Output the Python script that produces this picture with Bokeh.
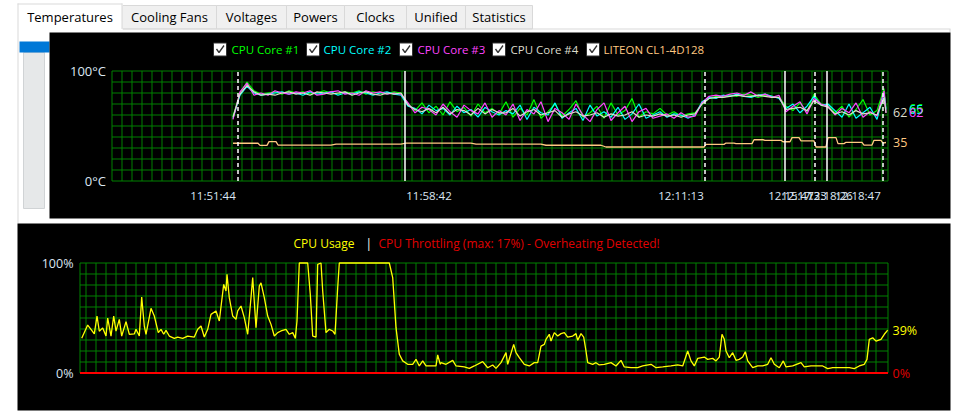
from bokeh.plotting import figure
from bokeh.models import Range1d
from bokeh.core.properties import value
from bokeh.embed import file_html
from bokeh.resources import INLINE

FONT = "Open Sans"
GRID = "#008000"
LBL = "#dce6f2"

# ---------------- data ----------------
tab_labels = ["Temperatures", "Cooling Fans", "Voltages", "Powers", "Clocks", "Unified", "Statistics"]
tab_edges = [17, 122, 216, 286, 344, 406, 465, 532]

series_names = ["CPU Core #1", "CPU Core #2", "CPU Core #3", "CPU Core #4", "LITEON CL1-4D128"]
series_colors = ["#00ff00", "#00ffff", "#ff44ff", "#dcdccc", "#ffc880"]

# sample index along the temperature time axis
temp_t = list(range(121, 773, 7)) + [774]
core1 = [59, 80, 90, 82, 79,
         80, 81, 79, 82, 80, 81, 79, 80, 82, 80, 79, 81, 80, 82, 79, 81, 80, 79, 81, 80,
         70, 64, 71, 62, 68, 60, 72, 63, 67, 59, 70, 62, 66, 61,
         72, 58, 66, 60, 74, 57, 63, 70, 59, 65, 73, 58, 62, 68, 57, 71, 60, 64, 75, 58, 63, 61, 66,
         60, 63, 59, 61, 62, 70,
         75, 77, 76, 78, 77, 79, 78, 76, 78, 77, 76,
         68, 64, 71, 63, 79, 70, 69,
         62, 68, 58, 65, 74, 60, 64, 84, 66]
core2 = [57, 78, 86, 80, 78,
         79, 80, 81, 79, 80, 78, 81, 79, 80, 81, 78, 80, 79, 81, 80, 78, 80, 81, 79, 78,
         68, 66, 61, 69, 64, 66, 60, 68, 62, 65, 58, 67, 63, 60,
         64, 61, 69, 56, 67, 62, 60, 71, 57, 62, 66, 55, 69, 59, 63, 58, 67, 56, 61, 70, 57, 60, 63,
         58, 61, 60, 57, 60, 72,
         76, 75, 78, 77, 79, 77, 76, 78, 79, 77, 75,
         66, 70, 62, 68, 77, 69, 70,
         64, 58, 70, 57, 62, 67, 56, 80, 65]
core3 = [56, 81, 89, 78, 80,
         78, 82, 80, 79, 81, 80, 82, 78, 79, 81, 82, 79, 80, 78, 82, 80, 81, 79, 80, 79,
         71, 62, 67, 65, 60, 70, 63, 58, 69, 64, 61, 71, 58, 64,
         60, 70, 55, 65, 61, 72, 54, 66, 62, 56, 70, 60, 54, 65, 71, 55, 62, 68, 54, 63, 66, 57, 59,
         61, 57, 62, 58, 59, 71,
         77, 78, 77, 79, 80, 78, 81, 77, 79, 76, 78,
         63, 68, 72, 61, 75, 70, 68,
         60, 66, 62, 71, 58, 63, 59, 82, 62]
core4 = [58, 79, 87, 81, 78,
         79, 78, 80, 81, 79, 80, 78, 81, 80, 79, 80, 81, 78, 80, 81, 79, 78, 80, 79, 80,
         69, 65, 63, 66, 62, 67, 61, 65, 64, 60, 66, 61, 65, 62,
         62, 66, 59, 63, 65, 60, 62, 64, 58, 61, 63, 59, 60, 62, 58, 61, 59, 60, 63, 58, 60, 59, 61,
         59, 60, 58, 60, 61, 70,
         75, 76, 76, 77, 78, 77, 77, 78, 77, 76, 76,
         65, 66, 67, 64, 73, 69, 67,
         61, 63, 60, 64, 61, 62, 60, 76, 62]

liteon_t = [121, 146, 148, 155, 157, 164, 166, 219, 224, 289, 294, 359, 364, 429, 434, 489,
            494, 592, 594, 612, 614, 622, 624, 640, 642, 651, 653, 669, 671, 678, 680, 687,
            689, 702, 704, 714, 716, 724, 726, 732, 734, 750, 752, 760, 762, 769, 771, 774]
liteon = [34.3, 34.3, 32.4, 32.4, 35.8, 35.8, 32.7, 32.7, 33.6, 33.6, 34.5, 34.5, 33.6, 33.6, 32.5, 32.5,
          30.9, 30.9, 33.3, 33.3, 34.5, 34.5, 34, 34, 37.5, 37.5, 37, 37, 35.7, 35.7, 39.4, 39.4,
          36.4, 36.4, 30.9, 30.9, 39.4, 39.4, 34, 34, 35.2, 35.2, 32.7, 32.7, 37, 37, 34.5, 35]

temp_y_ticks = [0, 100]
temp_y_labels = ["0°C", "100°C"]
marker_dashed_t = [126, 593, 703, 771]
marker_solid_t = [293, 673, 715]
time_tick_pos = [101, 317, 569, 679, 692, 718, 746]
time_tick_labels = ["11:51:44", "11:58:42", "12:11:13", "12:15:47", "12:17:33", "12:18:26", "12:18:47"]

end_temp_labels = ["62", "66", "65", "62", "35"]
end_temp_values = [62, 66, 65, 62, 35]
end_temp_colors = [series_colors[3], series_colors[0], series_colors[1], series_colors[2], series_colors[4]]
end_temp_x = [781, 797, 797, 797, 781]

usage_t = [1.7, 7.7, 11, 14.3, 17, 19.3, 22.7, 26, 27.7, 31, 33.7, 36, 39.3, 41.7, 46, 49.3,
           54.3, 56, 59.3, 61.7, 64.3, 66, 71, 74.3, 78.3, 81, 83.7, 86, 89.3, 94.3, 97.7, 102.7,
           107.7, 114.3, 117.7, 121, 124.3, 127.7, 131, 136, 139.3, 143.7, 146, 147, 149.3, 152.7,
           156, 157.7, 161, 164.3, 167.7, 171, 172.7, 176, 179.3, 181, 184.3, 187.7, 191, 194.3,
           197.7, 201, 206, 209.3, 212.7, 215.3, 217, 219.3, 227.7, 230.3, 232.7, 236, 237.7, 241,
           242.7, 246, 249.3, 252.7, 255, 257.7, 259.3, 309.3, 312.7, 316, 319.3, 322.7, 327.7,
           332.7, 336, 339.3, 342.7, 346, 356, 357.7, 360.3, 361, 366, 372.7, 376, 384.3, 389.3,
           394.3, 402.7, 407.7, 412.7, 416, 421, 426, 427.7, 433.7, 436, 439.3, 444.3, 449.3,
           454.3, 457.7, 461, 464.3, 466, 469.3, 471, 474.3, 477.7, 481, 484.3, 487.7, 492.7, 496,
           497.7, 501, 503.7, 506, 507.7, 512.7, 516, 519.3, 524.3, 531, 536, 541, 544.3, 551,
           557.7, 562.7, 571, 576, 582.7, 591, 597.7, 602.7, 607.7, 611, 614.3, 617.7, 624.3,
           627.7, 632.7, 636, 639.3, 642, 644.3, 646, 649.3, 652.7, 656, 659.3, 662.7, 665.3,
           667.7, 672.7, 677.7, 682.7, 687.7, 691, 694.3, 699.3, 703.3, 706, 712.7, 721, 724.3,
           731, 737.7, 742.7, 747.7, 752.7, 761, 769.3, 774.3, 779.3, 784.3, 787, 789.3, 792.7,
           796, 801, 804.3, 807.7]
usage = [31.5, 43.6, 39.7, 35.5, 51.8, 38, 41, 33.6, 50, 33.6, 51.8, 38, 48.8, 33.6, 46.7, 35.2,
         35.5, 39.7, 33.6, 69, 42.7, 35.2, 58.8, 51.8, 36.7, 39.7, 35.2, 38.8, 33.6, 31.5, 32.7, 31.5,
         33.6, 32.7, 39.7, 42.7, 32.7, 39.7, 53.3, 56.4, 47.3, 80.6, 74.5, 89.7, 68.5, 51.8,
         48.8, 56.4, 60.9, 50.3, 35.2, 68.5, 86.7, 41.2, 79, 82, 68.5, 51.8, 44.2, 33.6,
         36.7, 38.2, 39.7, 35.2, 36.7, 31.5, 47.3, 100, 100, 71.5, 33.6, 32.7, 98.8, 100,
         74.5, 36.7, 39.7, 38.2, 35.2, 77.5, 100, 100, 86.7, 41.2, 17, 11, 7.9,
         7.9, 12.4, 6.4, 11, 6.4, 6.4, 16.4, 7.9, 9.4, 7.9, 11.5, 6.4, 5.5, 4.2,
         6.4, 10.3, 4.8, 7.3, 4.2, 9.4, 18.5, 7.9, 26, 18.5, 13.9, 7.9, 6.4,
         9.4, 9.4, 24.5, 26, 30.6, 35.2, 29, 36.7, 33.6, 35.8, 36.7, 32.7, 33.6, 35.8,
         29.7, 35.8, 32.7, 20, 9.4, 7.9, 9.4, 7.3, 7.9, 9.4, 6.4, 11.5, 5.5, 4.8,
         4.8, 6.4, 7.9, 4.8, 5.5, 6.4, 7.3, 6.4, 20, 11, 6.4, 13.3, 14.5,
         12.4, 13.3, 11, 14.5, 35.2, 30.6, 20, 13.9, 18.5, 11.5, 12.4, 14.5, 19.4,
         11, 4.8, 6.4, 6.4, 7.9, 13.9, 7.9, 4.8, 11, 5.5, 6.4, 9.4, 5.5,
         6.4, 6.4, 6.4, 4, 4.8, 4.8, 4.8, 4, 6.4, 7.9, 12.4, 30.6, 32,
         29, 30.6, 35.2, 39]
throttle_t = [0, 808]
throttle = [0, 0]
usage_y_ticks = [0, 100]
usage_y_labels = ["0%", "100%"]
usage_title = ["CPU Usage", "|", "CPU Throttling (max: 17%) - Overheating Detected!"]
usage_title_colors = ["#ffff00", "#ffffff", "#e00000"]

# ---------------- layout geometry (page pixels) ----------------
W, H = 960, 412
T_X0, T_Y0, T_PXU, T_SPAN = 111.5, 180.5, 1.1, 776     # temperature plot origin / px per degree
U_X0, U_Y0, U_PXU, U_SPAN = 79.5, 372.5, 1.1, 808      # usage plot origin

p = figure(width=W, height=H, x_range=Range1d(0, W), y_range=Range1d(H, 0),
           output_backend="svg", toolbar_location=None, min_border=0,
           x_axis_location=None, y_axis_location=None)
p.grid.visible = False
p.outline_line_color = None
p.background_fill_color = "white"
p.border_fill_color = "white"
p.extra_x_ranges = {"tx": Range1d(-T_X0, W - T_X0), "ux": Range1d(-U_X0, W - U_X0)}
p.extra_y_ranges = {"ty": Range1d((T_Y0 - H) / T_PXU, T_Y0 / T_PXU),
                    "uy": Range1d((U_Y0 - H) / U_PXU, U_Y0 / U_PXU)}
TK = dict(x_range_name="tx", y_range_name="ty")
UK = dict(x_range_name="ux", y_range_name="uy")

# ---------------- tabs ----------------
p.quad(left=tab_edges[1:-1], right=tab_edges[2:], top=5, bottom=28.5,
       fill_color="#f0f0f0", line_color="#d9d9d9", line_width=1)
p.segment(x0=tab_edges[1], y0=28.5, x1=950, y1=28.5, color="#d9d9d9", line_width=1)
p.quad(left=tab_edges[0], right=tab_edges[1], top=3, bottom=29.5, fill_color="white", line_color=None)
p.segment(x0=[tab_edges[0] + 0.5, tab_edges[1] - 0.5, tab_edges[0]],
          y0=[3, 3, 3.5],
          x1=[tab_edges[0] + 0.5, tab_edges[1] - 0.5, tab_edges[1]],
          y1=[223, 28.5, 3.5], color="#d9d9d9", line_width=1)
p.segment(x0=949.5, y0=28.5, x1=949.5, y1=32, color="#d9d9d9", line_width=1)
tab_cx = [(a + b) / 2 for a, b in zip(tab_edges[:-1], tab_edges[1:])]
p.text(x=tab_cx, y=[16.5] * len(tab_cx), text=tab_labels, text_align="center",
       text_baseline="middle", text_font=value(FONT), text_font_size="13px", text_color="#000000")

# ---------------- left strip ----------------
p.quad(left=23, right=44, top=52, bottom=208, fill_color="#e6e8e9", line_color="#d0d3d5")
p.quad(left=19, right=49, top=41, bottom=52, fill_color="#0078d7", line_color=None)

# ---------------- black panels ----------------
p.quad(left=[49, 17], right=[950, 950], top=[32, 223], bottom=[218, 410],
       fill_color="black", line_color=None)

# ---------------- temperature legend ----------------
legend_box_x = [213, 306, 399, 492, 586]
legend_text_x = [231, 323, 417, 510, 603]
p.quad(left=legend_box_x, right=[v + 13 for v in legend_box_x], top=42.5, bottom=55.5,
       fill_color="white", line_color="#333333", line_width=1)
p.multi_line(xs=[[b + 3, b + 5.5, b + 10.5] for b in legend_box_x],
             ys=[[48.5, 52, 45]] * 5, color="#333333", line_width=1.3)
p.text(x=legend_text_x, y=[49] * 5, text=series_names, text_color=series_colors,
       text_baseline="middle", text_font=value(FONT), text_font_size="11.5px")

# ---------------- temperature chart ----------------
tgx = list(range(0, T_SPAN - 5, 10)) + [T_SPAN]
tgy = list(range(0, 101, 10))
p.segment(x0=tgx, y0=0, x1=tgx, y1=100, color=GRID, line_width=1, **TK)
p.segment(x0=0, y0=tgy, x1=T_SPAN, y1=tgy, color=GRID, line_width=1, **TK)

p.line(liteon_t, liteon, color=series_colors[4], line_width=1.3, **TK)
for ys, col in zip([core1, core2, core3, core4], series_colors[:4]):
    p.line(temp_t, ys, color=col, line_width=1.2, **TK)
p.segment(x0=marker_dashed_t, y0=0, x1=marker_dashed_t, y1=100, color="white",
          line_width=1.5, line_dash="4 3", **TK)
p.segment(x0=marker_solid_t, y0=0, x1=marker_solid_t, y1=100, color="white", line_width=1.5, **TK)

p.text(x=-6, y=temp_y_ticks, text=temp_y_labels, text_align="right", text_baseline="middle",
       text_color=LBL, text_font=value(FONT), text_font_size="13px", **TK)
p.text(x=time_tick_pos, y=-13.5, text=time_tick_labels, text_align="center", text_baseline="middle",
       text_color=LBL, text_font=value(FONT), text_font_size="11.5px", **TK)
p.text(x=end_temp_x, y=end_temp_values, text=end_temp_labels, text_color=end_temp_colors,
       text_baseline="middle", text_font=value(FONT), text_font_size="12.5px", **TK)

# ---------------- usage chart ----------------
p.text(x=[293, 365, 378], y=243, text=usage_title, text_color=usage_title_colors,
       text_baseline="middle", text_font=value(FONT), text_font_size="12px")

ugx = [0] + list(range(6, U_SPAN - 5, 10)) + [U_SPAN]
ugy = list(range(0, 101, 10))
p.segment(x0=ugx, y0=0, x1=ugx, y1=100, color=GRID, line_width=1, **UK)
p.segment(x0=0, y0=ugy, x1=U_SPAN, y1=ugy, color=GRID, line_width=1, **UK)

p.line(throttle_t, throttle, color="#ff0000", line_width=2, **UK)
p.line(usage_t, usage, color="#ffff00", line_width=1.3, **UK)

p.text(x=-6.5, y=usage_y_ticks, text=usage_y_labels, text_align="right", text_baseline="middle",
       text_color=LBL, text_font=value(FONT), text_font_size="12.5px", **UK)
p.text(x=[812.5, 812.5], y=[usage[-1], throttle[-1]], text=["39%", "0%"],
       text_color=["#ffff00", "#e00000"], text_baseline="middle",
       text_font=value(FONT), text_font_size="12.5px", **UK)

open("out.html", "w").write(file_html(p, INLINE, title="Temperatures"))
